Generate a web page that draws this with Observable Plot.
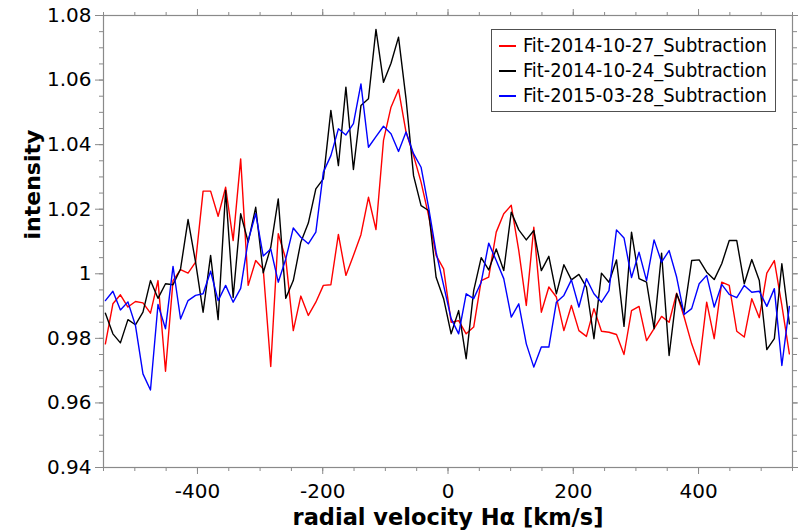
<!DOCTYPE html>
<html><head><meta charset="utf-8">
<script src="https://cdn.jsdelivr.net/npm/d3@7"></script>
<script src="https://cdn.jsdelivr.net/npm/@observablehq/plot@0.6"></script>
<style>
body{margin:0;background:#fff;}
#wrap{position:relative;width:798px;height:531px;}
#legend{position:absolute;left:491px;top:29px;width:283px;height:81px;border:1px solid #505050;background:#fff;font-family:"DejaVu Sans";font-stretch:condensed;font-size:19.9px;color:#000;}
.row{position:absolute;left:0;height:25px;display:flex;align-items:center;white-space:nowrap;}
.sw{display:inline-block;width:17px;height:2px;margin-left:7px;margin-right:7px;}
</style></head>
<body><div id="wrap"></div>
<script>
const velocity = [-547,-535,-523,-511,-499,-487,-475,-463,-451,-439,-427,-415,-403,-391,-379,-367,-355,-343,-331,-319,-307,-295,-283,-271,-259,-247,-235,-223,-211,-199,-187,-175,-163,-151,-139,-127,-115,-103,-91,-79,-67,-55,-43,-31,-19,-7,5,17,29,41,53,65,77,89,101,113,125,137,149,161,173,185,197,209,221,233,245,257,269,281,293,305,317,329,341,353,365,377,389,401,413,425,437,449,461,473,485,497,509,521,533,545];
const fit20141027 = [0.9783,0.9907,0.9935,0.9897,0.9914,0.9910,0.9878,0.9979,0.9698,0.9979,1.0013,1.0002,1.0036,1.0256,1.0256,1.0178,1.0268,1.0103,1.0356,0.9964,1.0041,1.0015,0.9713,1.0124,1.0046,0.9824,0.9931,0.9871,0.9912,0.9964,0.9966,1.0122,0.9995,1.0057,1.0121,1.0237,1.0137,1.0413,1.0516,1.0571,1.0439,1.0366,1.0284,1.0180,1.0057,1.0015,0.9850,0.9855,0.9814,0.9835,0.9979,0.9990,1.0129,1.0186,1.0212,1.0072,0.9902,1.0144,0.9881,0.9959,0.9928,0.9824,0.9902,0.9824,0.9806,0.9892,0.9822,0.9819,0.9812,0.9750,0.9886,0.9899,0.9793,0.9830,0.9868,0.9850,0.9940,0.9866,0.9783,0.9718,0.9912,0.9799,0.9974,0.9964,0.9822,0.9804,0.9923,0.9864,1.0002,1.0041,0.9902,0.9752];
const fit20141024 = [0.9878,0.9814,0.9786,0.9858,0.9842,0.9881,0.9979,0.9924,0.9969,0.9966,1.0015,1.0168,1.0036,0.9881,1.0057,0.9858,1.0258,0.9927,1.0186,1.0098,1.0206,1.0003,1.0082,1.0232,0.9924,0.9979,1.0098,1.0157,1.0263,1.0294,1.0506,1.0335,1.0578,1.0323,1.0521,1.0542,1.0757,1.0593,1.0652,1.0733,1.0542,1.0304,1.0211,1.0196,0.9989,0.9923,0.9814,0.9886,0.9737,0.9948,1.0050,1.0012,1.0077,1.0010,1.0191,1.0136,1.0105,1.0134,1.0010,1.0054,0.9938,1.0028,0.9981,0.9998,0.9959,0.9799,1.0002,0.9974,1.0043,0.9837,1.0129,0.9985,0.9974,0.9830,1.0064,0.9747,0.9938,0.9881,1.0041,1.0043,1.0005,0.9982,1.0031,1.0103,1.0103,0.9969,1.0044,0.9979,0.9765,0.9799,1.0031,0.9845];
const fit20150328 = [0.9917,0.9946,0.9888,0.9913,0.9840,0.9690,0.9640,0.9905,0.9830,1.0023,0.9860,0.9917,0.9933,0.9938,1.0008,0.9917,0.9964,0.9912,0.9955,1.0103,1.0186,1.0055,1.0077,0.9974,1.0046,1.0142,1.0113,1.0093,1.0129,1.0315,1.0366,1.0449,1.0430,1.0465,1.0588,1.0392,1.0425,1.0457,1.0434,1.0379,1.0439,1.0372,1.0330,1.0206,1.0067,0.9964,0.9861,0.9814,0.9938,0.9923,0.9974,1.0095,1.0041,0.9985,0.9866,0.9907,0.9783,0.9711,0.9773,0.9773,0.9912,0.9933,0.9981,0.9897,0.9985,0.9938,0.9912,0.9948,1.0136,1.0111,0.9988,1.0067,0.9979,1.0105,1.0036,1.0072,0.9990,0.9874,0.9892,0.9969,0.9995,0.9897,0.9967,0.9936,0.9926,0.9964,0.9943,0.9946,0.9899,0.9954,0.9716,0.9899];

const seriesNames = ["Fit-2014-10-27_Subtraction", "Fit-2014-10-24_Subtraction", "Fit-2015-03-28_Subtraction"];
const seriesColors = ["#ff0000", "#000000", "#0000ff"];
const seriesValues = [fit20141027, fit20141024, fit20150328];

const xMajorTicks = [-400, -200, 0, 200, 400];
const yMajorTicks = [0.94, 0.96, 0.98, 1.00, 1.02, 1.04, 1.06, 1.08];
const xLabel = "radial velocity Hα [km/s]";
const yLabel = "intensity";

const xMinorTicks = d3.range(-550, 551, 50);
const yMinorTicks = d3.range(0, 29).map(i => +(0.94 + i * 0.005).toFixed(3));

const rows = seriesNames.flatMap((name, s) => velocity.map((v, i) => ({v, y: seriesValues[s][i], name})));

const axisGray = "#8a8a8a";
const chart = Plot.plot({
  width: 798, height: 531,
  marginLeft: 103, marginRight: 6, marginTop: 15, marginBottom: 64,
  x: {domain: [-550, 550]},
  y: {domain: [0.94, 1.08]},
  color: {domain: seriesNames, range: seriesColors},
  style: {fontFamily: "DejaVu Sans", fontSize: "20px", color: "#000", background: "#fff"},
  marks: [
    Plot.axisX(xMinorTicks, {anchor: "bottom", tickSize: 4, stroke: axisGray, fill: "none", label: null}),
    Plot.axisX(xMinorTicks, {anchor: "top", tickSize: 4, stroke: axisGray, fill: "none", label: null}),
    Plot.axisX(xMajorTicks, {anchor: "top", tickSize: 7, stroke: axisGray, fill: "none", label: null}),
    Plot.axisX(xMajorTicks, {anchor: "bottom", tickSize: 7, tickPadding: 9, stroke: axisGray, tickFormat: d => String(d), label: null}),
    Plot.axisY(yMinorTicks, {anchor: "left", tickSize: 4, stroke: axisGray, fill: "none", label: null}),
    Plot.axisY(yMinorTicks, {anchor: "right", tickSize: 4, stroke: axisGray, fill: "none", label: null}),
    Plot.axisY(yMajorTicks, {anchor: "right", tickSize: 7, stroke: axisGray, fill: "none", label: null}),
    Plot.axisY(yMajorTicks, {anchor: "left", tickSize: 8, tickPadding: 4, stroke: axisGray, tickFormat: d => String(+d.toFixed(2)), label: null}),
    Plot.lineY(rows, {x: "v", y: "y", z: "name", stroke: "name", strokeWidth: 1.4, curve: "linear"}),
    Plot.frame({stroke: axisGray, strokeWidth: 1.2}),
    Plot.text([xLabel], {text: d => d, frameAnchor: "bottom", dy: 57, lineAnchor: "bottom", fontWeight: "bold", fontSize: 22.5}),
    Plot.text([yLabel], {text: d => d, frameAnchor: "left", dx: -71, dy: -2, rotate: -90, lineAnchor: "middle", fontWeight: "bold", fontSize: 22})
  ]
});
const wrap = document.getElementById("wrap");
wrap.appendChild(chart);

const legend = document.createElement("div");
legend.id = "legend";
seriesNames.forEach((name, i) => {
  const row = document.createElement("div");
  row.className = "row";
  row.style.top = (3 + 25 * i) + "px";
  const sw = document.createElement("span");
  sw.className = "sw";
  sw.style.backgroundColor = seriesColors[i];
  const tx = document.createElement("span");
  tx.textContent = name;
  row.appendChild(sw); row.appendChild(tx);
  legend.appendChild(row);
});
wrap.appendChild(legend);
</script>
</body></html>
